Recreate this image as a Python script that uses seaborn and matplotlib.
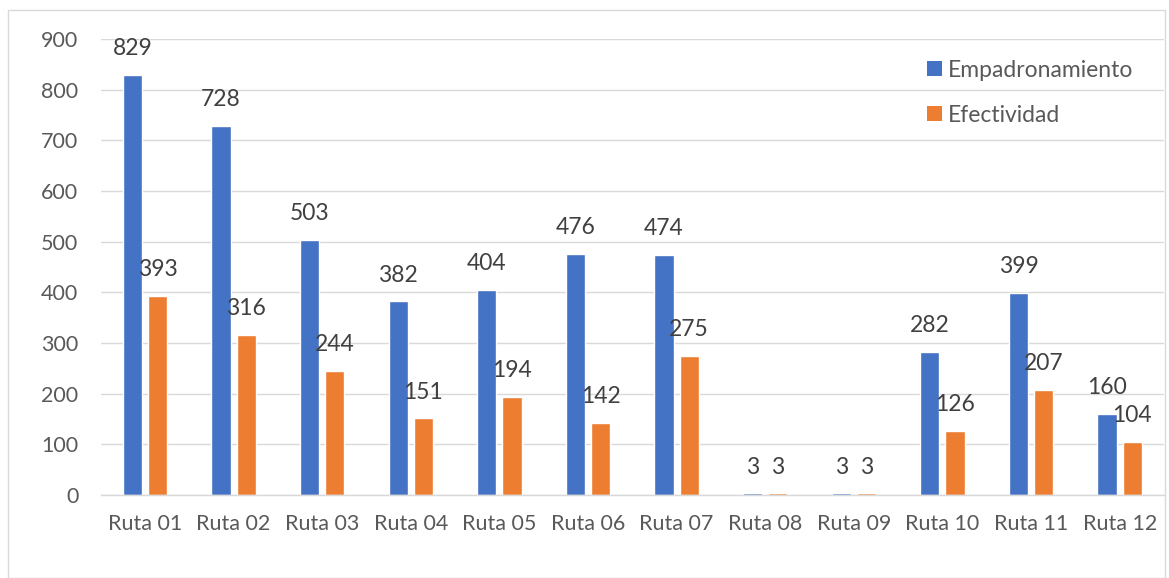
import matplotlib
matplotlib.use("Agg")
import matplotlib.pyplot as plt
import seaborn as sns
import pandas as pd
from matplotlib.patches import Rectangle, Patch

categories = ["Ruta 01", "Ruta 02", "Ruta 03", "Ruta 04", "Ruta 05", "Ruta 06",
              "Ruta 07", "Ruta 08", "Ruta 09", "Ruta 10", "Ruta 11", "Ruta 12"]
empadronamiento = [829, 728, 503, 382, 404, 476, 474, 3, 3, 282, 399, 160]
efectividad = [393, 316, 244, 151, 194, 142, 275, 3, 3, 126, 207, 104]
series_names = ["Empadronamiento", "Efectividad"]
colors = ["#4472C4", "#ED7D31"]

df = pd.DataFrame({
    "Ruta": categories * 2,
    "Serie": [series_names[0]] * len(categories) + [series_names[1]] * len(categories),
    "Valor": empadronamiento + efectividad,
})

sns.set_theme(style="white")
plt.rcParams["font.family"] = ["Lato", "DejaVu Sans"]

fig = plt.figure(figsize=(11.69, 5.78), dpi=100)
ax = fig.add_axes([0.0861, 0.1436, 0.9096, 0.789])

sns.barplot(data=df, x="Ruta", y="Valor", hue="Serie", palette=colors,
            width=0.57, gap=0.24, ax=ax, legend=False, saturation=1)

ax.set_ylim(0, 900)
ax.set_xlim(-0.5, 11.5)
ax.set_yticks(range(0, 901, 100))
ax.yaxis.grid(True, color="#D9D9D9", linewidth=1)
ax.set_axisbelow(True)
for s in ["left", "right", "top"]:
    ax.spines[s].set_visible(False)
ax.spines["bottom"].set_color("#D9D9D9")
ax.spines["bottom"].set_linewidth(1)
ax.tick_params(axis="both", length=0, labelsize=15.5, colors="#595959")
ax.tick_params(axis="x", pad=14)
ax.tick_params(axis="y", pad=16)
ax.set_xlabel("")
ax.set_ylabel("")

for container in ax.containers:
    for bar in container:
        h = bar.get_height()
        ax.annotate(f"{int(round(h))}", (bar.get_x() + bar.get_width() / 2, h),
                    xytext=(0, 19), textcoords="offset points",
                    ha="center", va="center", fontsize=16.5, color="#404040")

handles = [Patch(facecolor=c, edgecolor="none") for c in colors]
ax.legend(handles, series_names, loc="upper left", bbox_to_anchor=(0.758, 1.0),
          frameon=False, fontsize=16.5, handlelength=0.65, handleheight=0.65,
          handletextpad=0.25, labelspacing=1.05, labelcolor="#595959")

fig.patches.append(Rectangle((8 / 1169, 0), (1165 - 8) / 1169, 1 - 10 / 578,
                             transform=fig.transFigure, fill=False,
                             edgecolor="#D9D9D9", linewidth=1))

fig.savefig("out.png", dpi=100)
